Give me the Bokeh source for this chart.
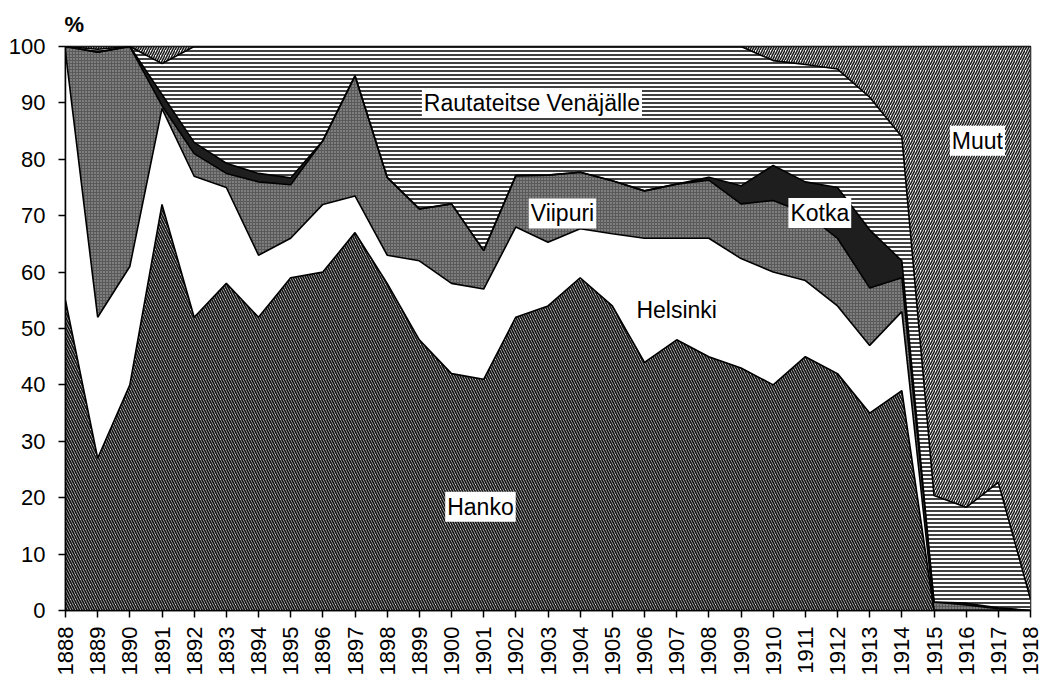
from bokeh.plotting import figure
from bokeh.models import ColumnDataSource, Range1d, FixedTicker, Label
from bokeh.embed import file_html
from bokeh.resources import INLINE
import math

years = list(range(1888, 1919))
hanko = [55, 27, 40, 72, 52, 58, 52, 59, 60, 67, 58, 48, 42, 41, 52, 54, 59, 54, 44, 48,
         45, 43, 40, 45, 42, 35, 39, 0, 0, 0, 0]
helsinki = [44, 25, 21, 17, 25, 17, 11, 7, 12, 6.5, 5, 14, 16, 16, 16, 11.3, 8.7, 12.8, 22, 18,
            21, 19.4, 20, 13.5, 12, 12, 14, 0, 0, 0, 0]
viipuri = [1, 47, 39, 0.5, 4, 2.5, 13, 9.5, 11.3, 21.3, 13.8, 9.2, 14.1, 6.8, 9.1, 11.9, 10, 9.4, 8.4, 9.6,
           10.3, 9.7, 12.7, 12, 12, 10.2, 6, 1.5, 1, 0.3, 0]
kotka = [0, 0, 0, 2, 2, 1.8, 1.5, 1.2, 0, 0, 0, 0, 0, 0, 0, 0, 0, 0, 0, 0,
         0.5, 3.2, 6.2, 5.5, 9, 10.3, 3, 0, 0.3, 0.2, 0]
rautateitse = [0, 0.5, 0, 5.5, 17, 20.7, 22.5, 23.3, 16.7, 5.2, 23.2, 28.8, 27.9, 36.2, 22.9, 22.8, 22.3, 23.8, 25.6, 24.4,
               23.2, 24.7, 18.6, 20.8, 21, 23.5, 22, 18.9, 17, 22.2, 2]
muut = [0, 0.5, 0, 3, 0, 0, 0, 0, 0, 0, 0, 0, 0, 0, 0, 0, 0, 0, 0, 0,
        0, 0, 2.5, 3.2, 4, 9, 16, 79.6, 81.7, 77.3, 98]

names = ["Hanko", "Helsinki", "Viipuri", "Kotka", "Rautateitse", "Muut"]
series = [hanko, helsinki, viipuri, kotka, rautateitse, muut]
labels = ["Hanko", "Helsinki", "Viipuri", "Kotka", "Rautateitse Venäjälle", "Muut"]
label_x = [1900.9, 1907.0, 1903.45, 1911.45, 1902.5, 1916.35]
label_y = [18.4, 53.2, 70.4, 70.5, 90.0, 83.3]

data = {"year": years}
for n, s in zip(names, series):
    data[n] = s
source = ColumnDataSource(data)

p = figure(width=1044, height=683, output_backend="svg", toolbar_location=None,
           x_range=Range1d(1888, 1918), y_range=Range1d(0, 100), title="%")
p.min_border_left = 65
p.min_border_right = 14
p.min_border_top = 45
p.min_border_bottom = 73
p.outline_line_color = "black"
p.outline_line_width = 1.5
p.xgrid.visible = False
p.ygrid.visible = False
p.background_fill_color = "white"

FONT = "Liberation Sans"
p.title.text_font = FONT
p.title.text_font_size = "22px"
p.title.text_font_style = "bold"
p.title.text_color = "black"
p.title.align = "left"
p.title.offset = -1
p.title.standoff = 19

fills = ["white", "white", "#5a5a5a", "#1e1e1e", "white", "white"]
hatches = ["left_diagonal_line", "blank", "dot", "blank", "horizontal_line", "right_diagonal_line"]
hcolors = ["#141414", "black", "#b4b4b4", "black", "#1e1e1e", "#1e1e1e"]
hscales = [5.0, 4.0, 3.0, 4.0, 4.0, 5.0]
hweights = [1.75, 1.0, 1.0, 1.0, 1.7, 1.6]

p.varea_stack(names, x="year", source=source, fill_color=fills,
              hatch_pattern=hatches, hatch_color=hcolors,
              hatch_scale=hscales, hatch_weight=hweights)
p.vline_stack(names, x="year", source=source, line_color="black", line_width=1.6)

for t, x, y in zip(labels, label_x, label_y):
    p.add_layout(Label(x=x, y=y, text=t, text_align="center", text_baseline="middle",
                       text_font=FONT, text_font_size="23px", text_color="black",
                       background_fill_color="white", padding=2))

p.xaxis.ticker = FixedTicker(ticks=years)
p.xaxis.major_label_orientation = math.pi / 2
p.yaxis.ticker = FixedTicker(ticks=list(range(0, 101, 10)))
for ax in (p.xaxis, p.yaxis):
    ax.major_label_text_font = FONT
    ax.major_label_text_font_size = "22px"
    ax.major_label_text_color = "black"
    ax.axis_line_color = "black"
    ax.axis_line_width = 1.5
    ax.major_tick_line_color = "black"
    ax.major_tick_line_width = 1.5
    ax.major_tick_out = 7
    ax.major_tick_in = 0
    ax.minor_tick_line_color = None
p.xaxis.major_label_standoff = 9
p.yaxis.major_label_standoff = 13

open("out.html", "w").write(file_html(p, INLINE))
